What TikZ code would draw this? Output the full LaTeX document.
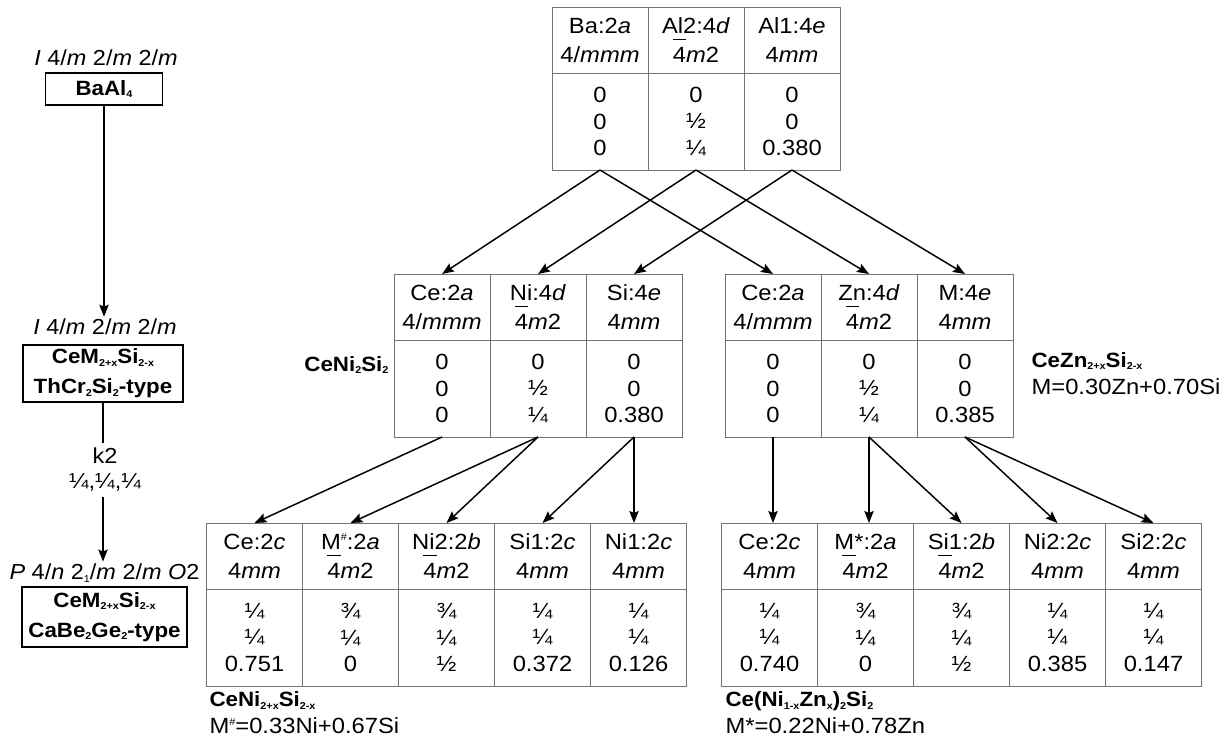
\documentclass[tikz,border=0pt]{standalone}
\usepackage{fontspec}
\setmainfont{Liberation Sans}[FakeStretch=1.08]
\usetikzlibrary{arrows.meta,positioning}

\newcommand\bfour{\leavevmode\makebox[0pt][l]{\raisebox{1.02em}{\rule{0.6em}{0.75pt}}}4}
\newcommand\tsub[1]{\raisebox{-0.12em}{\fontsize{7.5}{8}\selectfont #1}}
\newcommand\tsup[1]{\raisebox{0.38em}{\fontsize{7.5}{8}\selectfont #1}}

\tikzset{
  cellhead/.style={draw=black!55, line width=0.75pt, outer sep=0pt, inner sep=0pt,
    minimum width=72pt, minimum height=49.5pt, align=center,
    font=\fontsize{16.5}{21.75}\selectfont},
  cellbody/.style={cellhead, minimum height=72.75pt,
    font=\fontsize{16.5}{19.9}\selectfont},
  typebox/.style={draw, line width=1.2pt, align=center, inner sep=1.5pt,
    font=\bfseries\fontsize{15.5}{22.5}\selectfont},
  sglabel/.style={inner sep=1.5pt, align=center, font=\fontsize{16.3}{18.75}\selectfont},
  formula/.style={inner sep=1pt, align=left, font=\fontsize{16.5}{20.25}\selectfont},
  arr/.style={line width=1.1pt, -{Stealth[length=9pt,width=7pt,inset=1.5pt]}}
}

\begin{document}
\begin{tikzpicture}[x=0.75pt, y=-0.75pt]
\useasboundingbox (0,0) rectangle (1232,740);

% group-subgroup chain
\node[sglabel] (sg1) at (106,58) {\textit{I} 4/\textit{m} 2/\textit{m} 2/\textit{m}};
\node[typebox, minimum width=87.75pt, minimum height=24pt] (bx1) at (104,89) {BaAl\tsub{4}};
\node[sglabel] (sg2) at (105,327) {\textit{I} 4/\textit{m} 2/\textit{m} 2/\textit{m}};
\node[typebox, minimum width=120pt, minimum height=42.75pt] (bx2) at (103,373.5)
  {CeM\tsub{2+x}Si\tsub{2-x}\\ThCr\tsub{2}Si\tsub{2}-type};
\node[sglabel, inner ysep=4pt] (k2) at (105,470) {k2\\¼,¼,¼};
\node[sglabel] (sg3) at (104.5,573) {\textit{P} 4/\textit{n} 2\tsub{1}/\textit{m} 2/\textit{m} \textit{O}2};
\node[typebox, minimum width=123.75pt, minimum height=45pt] (bx3) at (104.5,617)
  {CeM\tsub{2+x}Si\tsub{2-x}\\CaBe\tsub{2}Ge\tsub{2}-type};

\draw[arr] (bx1.south) -- (bx1.south |- sg2.north);
\draw[line width=1.1pt] (bx2.south) -- (bx2.south |- k2.north);
\draw[arr] (bx2.south |- k2.south) -- (bx2.south |- sg3.north);

% BaAl4
\foreach \n/\x/\hd/\bd in {
  1/600/{Ba:2\textit{a}\\4/\textit{mmm}}/{0\\0\\0},
  2/696/{Al2:4\textit{d}\\\bfour\textit{m}2}/{0\\½\\¼},
  3/792/{Al1:4\textit{e}\\4\textit{mm}}/{0\\0\\0.380}} {
  \node[cellhead, anchor=north] (T\n h) at (\x,7) {\hd};
  \node[cellbody, below=0pt of T\n h] (T\n b) {\bd};
}

% CeNi2Si2
\foreach \n/\x/\hd/\bd in {
  1/442/{Ce:2\textit{a}\\4/\textit{mmm}}/{0\\0\\0},
  2/538/{Ni:4\textit{d}\\\bfour\textit{m}2}/{0\\½\\¼},
  3/634/{Si:4\textit{e}\\4\textit{mm}}/{0\\0\\0.380}} {
  \node[cellhead, anchor=north] (L\n h) at (\x,274) {\hd};
  \node[cellbody, below=0pt of L\n h] (L\n b) {\bd};
}

% CeZn2+xSi2-x
\foreach \n/\x/\hd/\bd in {
  1/773/{Ce:2\textit{a}\\4/\textit{mmm}}/{0\\0\\0},
  2/869/{Zn:4\textit{d}\\\bfour\textit{m}2}/{0\\½\\¼},
  3/965/{M:4\textit{e}\\4\textit{mm}}/{0\\0\\0.385}} {
  \node[cellhead, anchor=north] (R\n h) at (\x,274) {\hd};
  \node[cellbody, below=0pt of R\n h] (R\n b) {\bd};
}

% CeNi2+xSi2-x
\foreach \n/\x/\hd/\bd in {
  1/254.5/{Ce:2\textit{c}\\4\textit{mm}}/{¼\\¼\\0.751},
  2/350.5/{M\tsup{\#}:2\textit{a}\\\bfour\textit{m}2}/{¾\\¼\\0},
  3/446.5/{Ni2:2\textit{b}\\\bfour\textit{m}2}/{¾\\¼\\½},
  4/542.5/{Si1:2\textit{c}\\4\textit{mm}}/{¼\\¼\\0.372},
  5/638.5/{Ni1:2\textit{c}\\4\textit{mm}}/{¼\\¼\\0.126}} {
  \node[cellhead, anchor=north] (LL\n h) at (\x,523) {\hd};
  \node[cellbody, below=0pt of LL\n h] (LL\n b) {\bd};
}

% Ce(Ni1-xZnx)2Si2
\foreach \n/\x/\hd/\bd in {
  1/769.5/{Ce:2\textit{c}\\4\textit{mm}}/{¼\\¼\\0.740},
  2/865.5/{M*:2\textit{a}\\\bfour\textit{m}2}/{¾\\¼\\0},
  3/961.5/{Si1:2\textit{b}\\\bfour\textit{m}2}/{¾\\¼\\½},
  4/1057.5/{Ni2:2\textit{c}\\4\textit{mm}}/{¼\\¼\\0.385},
  5/1153.5/{Si2:2\textit{c}\\4\textit{mm}}/{¼\\¼\\0.147}} {
  \node[cellhead, anchor=north] (RR\n h) at (\x,523) {\hd};
  \node[cellbody, below=0pt of RR\n h] (RR\n b) {\bd};
}

\foreach \s/\t in {T1b/L1h, T1b/R1h, T2b/L2h, T2b/R2h, T3b/L3h, T3b/R3h,
  L1b/LL1h, L2b/LL2h, L2b/LL3h, L3b/LL4h, R2b/RR3h, R3b/RR4h, R3b/RR5h}
  \draw[arr] (\s.south) -- (\t.north);
\foreach \s/\t in {L3b/LL5h, R1b/RR1h, R2b/RR2h}
  \draw[arr] (\s.south) -- (\s.south |- \t.north);

\node[formula, anchor=east, font=\bfseries\fontsize{15.5}{20.25}\selectfont] (fNi) at (390,365) {CeNi\tsub{2}Si\tsub{2}};
\node[formula, anchor=west] (fZn) at (1030,373.5) {{\bfseries\fontsize{15.5}{20.25}\selectfont CeZn\tsub{2+x}Si\tsub{2-x}}\\M=0.30Zn+0.70Si};
\node[formula, anchor=west] (fLL) at (208,713) {{\bfseries\fontsize{15.5}{20.25}\selectfont CeNi\tsub{2+x}Si\tsub{2-x}}\\M\tsup{\#}=0.33Ni+0.67Si};
\node[formula, anchor=west] (fRR) at (724,713) {{\bfseries\fontsize{15.5}{20.25}\selectfont Ce(Ni\tsub{1-x}Zn\tsub{x})\tsub{2}Si\tsub{2}}\\M*=0.22Ni+0.78Zn};

\end{tikzpicture}
\end{document}
